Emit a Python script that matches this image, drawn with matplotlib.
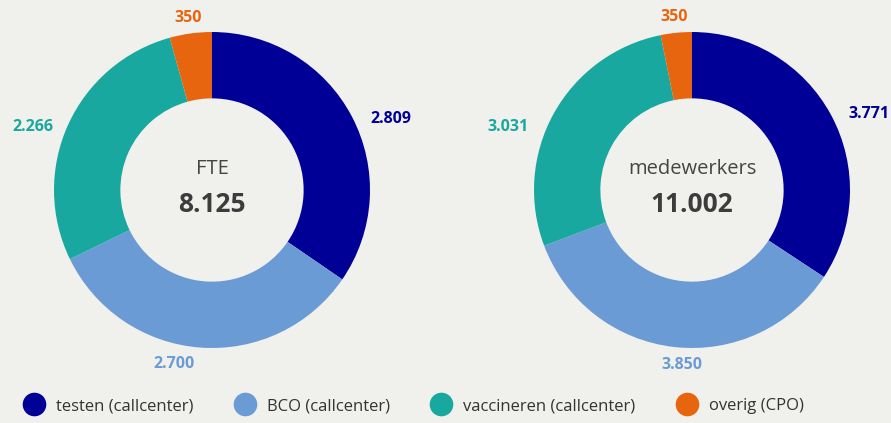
import matplotlib
matplotlib.use("Agg")
import matplotlib.pyplot as plt
import numpy as np
from matplotlib.lines import Line2D

plt.rcParams['font.family'] = ['Open Sans', 'DejaVu Sans']

categories = ["testen (callcenter)", "BCO (callcenter)", "vaccineren (callcenter)", "overig (CPO)"]
fte_values = [2809, 2700, 2266, 350]
staff_values = [3771, 3850, 3031, 350]
fte_labels = ["2.809", "2.700", "2.266", "350"]
staff_labels = ["3.771", "3.850", "3.031", "350"]
centre_titles = ["FTE", "medewerkers"]
centre_totals = ["8.125", "11.002"]

colors = ["#000096", "#6b9bd4", "#19a89f", "#e8650f"]
bg = "#f0f0ec"

fig = plt.figure(figsize=(8.91, 4.23), dpi=100, facecolor=bg)

W, H = 891, 423
R = 158
centres = [(212, 190), (692, 190)]
# label placement relative to the wedge middle: (distance in radii, angle shift in deg)
fte_lab_pos = [(1.22, -6), (1.13, -8), (1.2, 5), (1.1, 0)]
staff_lab_pos = [(1.22, -5), (1.11, 3), (1.23, 10), (1.1, 0)]


def donut(cx, cy, values, labels, lab_pos, title, total):
    ax = fig.add_axes([(cx - R) / W, (H - cy - R) / H, 2 * R / W, 2 * R / H])
    ax.set_facecolor(bg)
    wedges, _ = ax.pie(values, colors=colors, startangle=90, counterclock=False,
                       radius=1, wedgeprops=dict(width=0.42, edgecolor="none"))
    for w, lab, (d, shift), c in zip(wedges, labels, lab_pos, colors):
        ang = np.deg2rad((w.theta1 + w.theta2) / 2 + shift)
        ax.text(d * np.cos(ang), d * np.sin(ang), lab, ha="center", va="center",
                fontsize=11.5, fontweight="bold", color=c)
    ax.text(0, 0.13, title, ha="center", va="center", fontsize=14.5, color="#444444")
    ax.text(0, -0.09, total, ha="center", va="center", fontsize=19,
            fontweight="bold", color="#3c3c3c")
    ax.set_xlim(-1, 1)
    ax.set_ylim(-1, 1)
    ax.set_aspect("equal")
    ax.axis("off")


donut(*centres[0], fte_values, fte_labels, fte_lab_pos, centre_titles[0], centre_totals[0])
donut(*centres[1], staff_values, staff_labels, staff_lab_pos, centre_titles[1], centre_totals[1])

handles = [Line2D([0], [0], marker="o", linestyle="none", markersize=17,
                  markerfacecolor=c, markeredgecolor="none") for c in colors]
fig.legend(handles, categories, loc="center left", bbox_to_anchor=(0.003, 0.04),
           ncol=4, frameon=False, fontsize=12, handletextpad=0.3,
           columnspacing=2.1, labelcolor="#333333")

fig.savefig("out.png", dpi=100, facecolor=bg)
